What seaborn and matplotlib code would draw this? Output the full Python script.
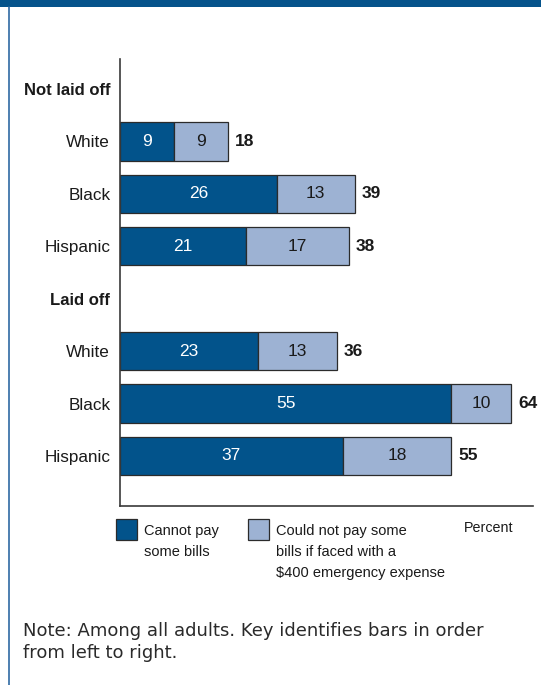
import matplotlib
matplotlib.use("Agg")
import matplotlib.pyplot as plt
from matplotlib.patches import Rectangle
import numpy as np
import pandas as pd
import seaborn as sns

# Data
groups = ["Not laid off", "Not laid off", "Not laid off", "Laid off", "Laid off", "Laid off"]
races = ["White", "Black", "Hispanic", "White", "Black", "Hispanic"]
cannot_pay = [9, 26, 21, 23, 55, 37]
could_not_pay_400 = [9, 13, 17, 13, 10, 18]
totals = [18, 39, 38, 36, 64, 55]
row_labels = ["Not laid off", "White", "Black", "Hispanic", "Laid off", "White", "Black", "Hispanic"]
header_rows = [0, 4]
bar_rows = [1, 2, 3, 5, 6, 7]

DARK = "#02538B"
LIGHT = "#9DB2D3"
EDGE = "#2B2B2B"
TEXT = "#1A1A1A"
SANS = ["Liberation Sans", "DejaVu Sans"]
WIDE = ["DejaVu Sans"]

df = pd.DataFrame({
    "group": groups,
    "race": races,
    "row": bar_rows,
    "cannot": cannot_pay,
    "extra": could_not_pay_400,
    "total": totals,
})

sns.set_theme(style="white")
plt.rcParams["font.family"] = SANS

W, H = 541, 685
fig = plt.figure(figsize=(W / 100, H / 100), dpi=100)

# Main chart axes
ax_left, ax_right, ax_top, ax_bottom = 120, 532.7, 58.7, 505.7
ax = fig.add_axes([ax_left / W, 1 - ax_bottom / H,
                   (ax_right - ax_left) / W, (ax_bottom - ax_top) / H])

bar_kw = dict(orient="h", native_scale=True, width=0.73, errorbar=None,
              edgecolor=EDGE, linewidth=0.9, ax=ax)
sns.barplot(data=df, x="cannot", y="row", color=DARK, saturation=1, **bar_kw)
sns.barplot(data=df, x="extra", y="row", color=LIGHT, saturation=1,
            left=df["cannot"].to_numpy(), **bar_kw)

ax.set_xlim(0, 68.55)
ax.set_ylim(7.948, -0.578)

# Segment and total labels
for r, a, b, t in zip(df["row"], df["cannot"], df["extra"], df["total"]):
    ax.text(a / 2, r, f"{a}", ha="center", va="center", color="white",
            fontsize=12.5)
    ax.text(a + b / 2, r, f"{b}", ha="center", va="center", color=TEXT,
            fontsize=12.5)
    ax.annotate(f"{t}", (a + b, r), xytext=(5, 0), textcoords="offset points",
                ha="left", va="center", color=TEXT, fontsize=12.5,
                fontweight="bold")

ax.set_yticks(range(len(row_labels)))
ax.set_yticklabels(row_labels, fontsize=12.3, color=TEXT)
for i, lab in enumerate(ax.get_yticklabels()):
    if i in header_rows:
        lab.set_fontweight("bold")
        lab.set_fontsize(12)
ax.tick_params(axis="y", length=0, pad=7)
ax.set_xticks([])
ax.set_xlabel("")
ax.set_ylabel("")
for side in ["top", "right"]:
    ax.spines[side].set_visible(False)
for side in ["left", "bottom"]:
    ax.spines[side].set_color("#3A3A3A")
    ax.spines[side].set_linewidth(1.2)
ax.set_facecolor("none")

# Frame behind the chart
ov = fig.add_axes([0, 0, 1, 1], zorder=-1)
ov.set_xlim(0, W)
ov.set_ylim(H, 0)
ov.axis("off")
ov.add_patch(Rectangle((0, 0), W, 7.3, color="#05538B", lw=0))
ov.plot([8.5, 8.5], [7, H], color="#2F6AA3", lw=1.2)

# Legend, unit and note
ov2 = fig.add_axes([0, 0, 1, 1], zorder=5)
ov2.set_xlim(0, W)
ov2.set_ylim(H, 0)
ov2.axis("off")
ov2.patch.set_alpha(0)

ov2.add_patch(Rectangle((115.5, 518.5), 21.5, 21.5, facecolor=DARK, edgecolor=EDGE, lw=0.9))
ov2.add_patch(Rectangle((247.5, 518.5), 21.5, 21.5, facecolor=LIGHT, edgecolor=EDGE, lw=0.9))
legend_a = ["Cannot pay", "some bills"]
legend_b = ["Could not pay some", "bills if faced with a", "$400 emergency expense"]
baselines = [535, 556, 577]
for line, yb in zip(legend_a, baselines):
    ov2.text(144, yb, line, ha="left", va="baseline", fontsize=10.5, color=TEXT)
for line, yb in zip(legend_b, baselines):
    ov2.text(276, yb, line, ha="left", va="baseline", fontsize=10.5, color=TEXT)
ov2.text(513, 531.7, "Percent", ha="right", va="baseline", fontsize=10.3, color=TEXT)

note_lines = ["Note: Among all adults. Key identifies bars in order", "from left to right."]
for line, yb in zip(note_lines, [636, 657.5]):
    ov2.text(23, yb, line, ha="left", va="baseline", fontsize=13, color="#2A2A2A",
             family=WIDE)

fig.savefig("out.png", dpi=100)
